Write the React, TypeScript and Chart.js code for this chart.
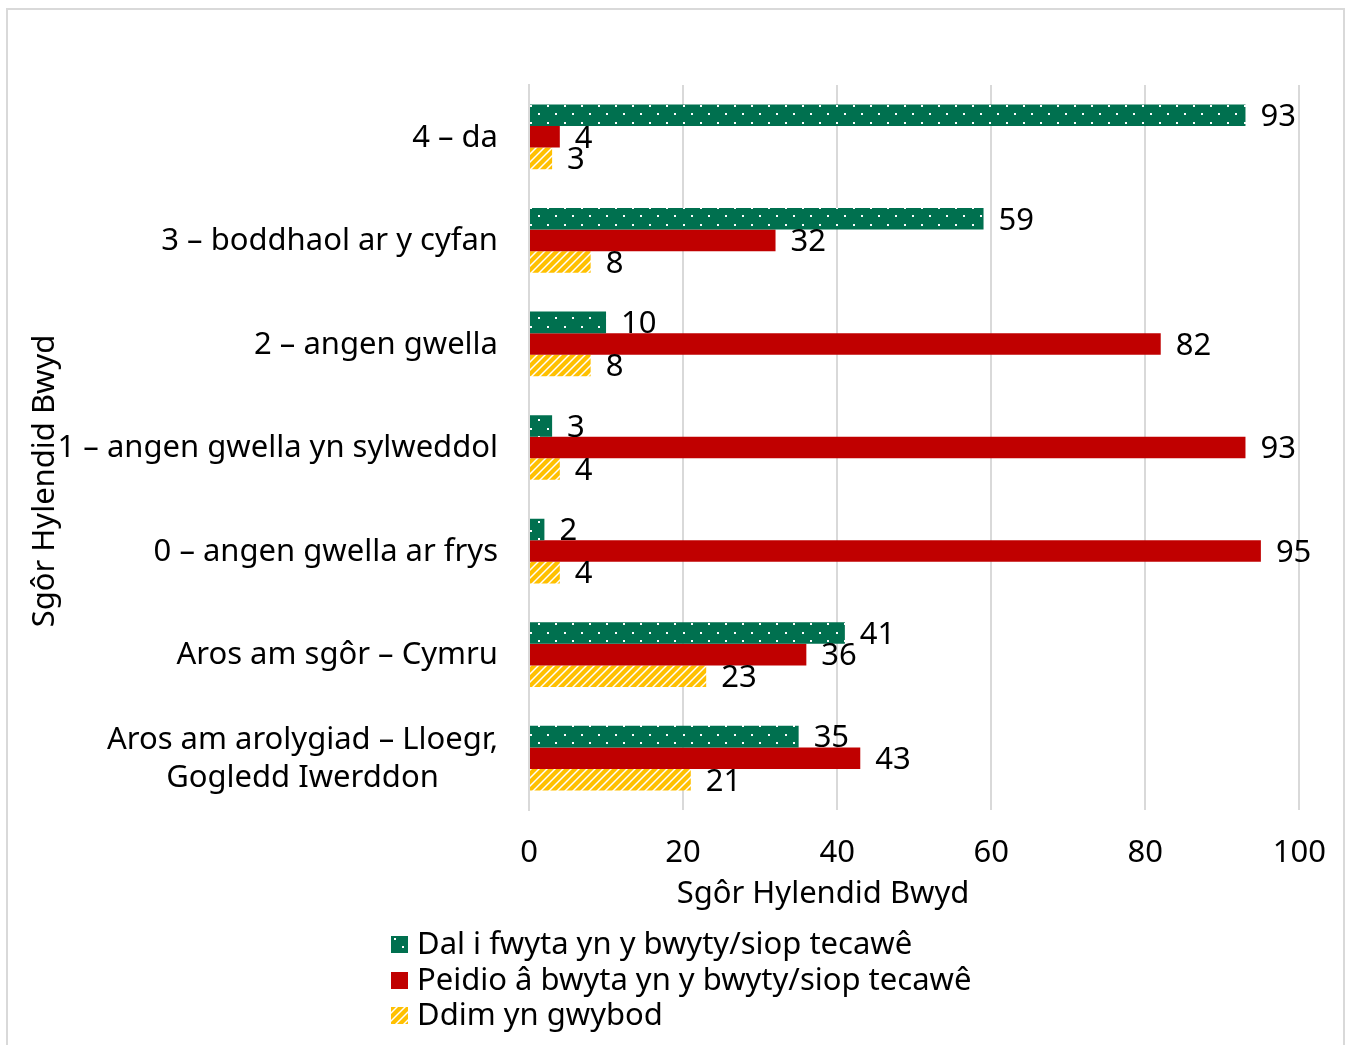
import React, { useEffect, useRef } from "react";
import { Chart, registerables } from "chart.js";

Chart.register(...registerables);

const categories: string[][] = [
  ["4 – da"],
  ["3 – boddhaol ar y cyfan"],
  ["2 – angen gwella"],
  ["1 – angen gwella yn sylweddol"],
  ["0 – angen gwella ar frys"],
  ["Aros am sgôr – Cymru"],
  ["Aros am arolygiad – Lloegr,", "Gogledd Iwerddon"],
];

const seriesNames = [
  "Dal i fwyta yn y bwyty/siop tecawê",
  "Peidio â bwyta yn y bwyty/siop tecawê",
  "Ddim yn gwybod",
];

const stillEat = [93, 59, 10, 3, 2, 41, 35];
const notEat = [4, 32, 82, 93, 95, 36, 43];
const dontKnow = [3, 8, 8, 4, 4, 23, 21];

const xTicks = [0, 20, 40, 60, 80, 100];
const axisTitle = "Sgôr Hylendid Bwyd";

const GREEN = "#00704f";
const RED = "#c00000";
const YELLOW = "#ffc000";
const FONT = "'Noto Sans', sans-serif";
const FS = 31;

function makeDotPattern(): CanvasPattern | string {
  const c = document.createElement("canvas");
  c.width = 17;
  c.height = 17;
  const g = c.getContext("2d");
  if (!g) return GREEN;
  g.fillStyle = GREEN;
  g.fillRect(0, 0, 17, 17);
  g.fillStyle = "#ffffff";
  g.fillRect(3, 3, 2, 2);
  g.fillRect(11, 11, 2, 2);
  return g.createPattern(c, "repeat") || GREEN;
}

function makeHatchPattern(): CanvasPattern | string {
  const c = document.createElement("canvas");
  const s = 8;
  c.width = s;
  c.height = s;
  const g = c.getContext("2d");
  if (!g) return YELLOW;
  g.fillStyle = "#ffffff";
  g.fillRect(0, 0, s, s);
  g.strokeStyle = YELLOW;
  g.lineWidth = 4.2;
  g.beginPath();
  g.moveTo(-s / 2, s / 2);
  g.lineTo(s / 2, -s / 2);
  g.moveTo(0, s);
  g.lineTo(s, 0);
  g.moveTo(s / 2, s + s / 2);
  g.lineTo(s + s / 2, s / 2);
  g.stroke();
  return g.createPattern(c, "repeat") || YELLOW;
}

export default function App() {
  const ref = useRef<HTMLCanvasElement | null>(null);

  useEffect(() => {
    if (!ref.current) return;
    const dot = makeDotPattern();
    const hatch = makeHatchPattern();
    const fills = [dot, RED, hatch];

    const customDraw = {
      id: "customDraw",
      afterDatasetsDraw(chart: any) {
        const ctx = chart.ctx;
        ctx.save();
        ctx.fillStyle = "#000000";
        ctx.font = `${FS}px ${FONT}`;
        ctx.textBaseline = "middle";
        ctx.textAlign = "left";
        chart.data.datasets.forEach((ds: any, di: number) => {
          const meta = chart.getDatasetMeta(di);
          meta.data.forEach((el: any, i: number) => {
            ctx.fillText(String(ds.data[i]), el.x + 15, el.y + 2);
          });
        });
        ctx.restore();
      },
      afterDraw(chart: any) {
        const ctx = chart.ctx;
        const area = chart.chartArea;
        const yScale = chart.scales.y;
        ctx.save();
        ctx.fillStyle = "#000000";
        ctx.font = `${FS}px ${FONT}`;
        ctx.textBaseline = "middle";
        // y category labels
        const lineH = 38;
        const rightX = area.left - 31;
        categories.forEach((lines, i) => {
          const cy = yScale.getPixelForValue(i) + 1;
          const widths = lines.map((l) => ctx.measureText(l).width);
          const blockW = Math.max(...widths);
          const blockCenter = rightX - blockW / 2;
          ctx.textAlign = "center";
          lines.forEach((l, li) => {
            const y = cy + (li - (lines.length - 1) / 2) * lineH;
            ctx.fillText(l, blockCenter, y);
          });
        });
        // axis titles
        ctx.textAlign = "center";
        ctx.fillText(axisTitle, 823, 894);
        ctx.save();
        ctx.translate(45, 481);
        ctx.rotate(-Math.PI / 2);
        ctx.fillText(axisTitle, 0, 0);
        ctx.restore();
        // legend
        const ly = [945, 981, 1016];
        seriesNames.forEach((n, i) => {
          ctx.fillStyle = fills[i] as any;
          ctx.fillRect(391, ly[i] - 9, 17, 17);
          ctx.fillStyle = "#000000";
          ctx.textAlign = "left";
          ctx.fillText(n, 417, ly[i]);
        });
        ctx.restore();
      },
    };

    const chart = new Chart(ref.current, {
      type: "bar",
      data: {
        labels: categories.map((c) => c.join(" ")),
        datasets: [
          { label: seriesNames[0], data: stillEat, backgroundColor: dot as any },
          { label: seriesNames[1], data: notEat, backgroundColor: RED },
          { label: seriesNames[2], data: dontKnow, backgroundColor: hatch as any },
        ],
      },
      options: {
        indexAxis: "y",
        animation: false,
        responsive: false,
        maintainAspectRatio: false,
        layout: { padding: { top: 85, right: 51, left: 0, bottom: 0 } },
        datasets: {
          bar: { barPercentage: 1, categoryPercentage: 0.625, borderWidth: 0 },
        },
        plugins: {
          legend: { display: false },
          tooltip: { enabled: false },
        },
        scales: {
          x: {
            min: 0,
            max: 100,
            afterBuildTicks(scale: any) {
              scale.ticks = xTicks.map((v) => ({ value: v }));
            },
            afterFit(scale: any) {
              scale.height = 1045 - 810;
            },
            grid: { color: "#d9d9d9", lineWidth: 2, drawTicks: false },
            border: { display: false },
            ticks: {
              color: "#000000",
              font: { family: FONT, size: FS },
              padding: 25,
              maxRotation: 0,
            },
          },
          y: {
            afterFit(scale: any) {
              scale.width = 529;
            },
            grid: { display: false, drawTicks: false },
            border: { display: true, color: "#d9d9d9", width: 2 },
            ticks: { display: false },
          },
        },
      },
      plugins: [customDraw],
    });
    return () => chart.destroy();
  }, []);

  return (
    <div style={{ position: "absolute", left: 0, top: 0, width: 1351, height: 1045, overflow: "hidden", background: "#fff" }}>
      <div
        style={{
          position: "absolute",
          left: 6,
          top: 8,
          width: 1339,
          height: 1060,
          border: "2px solid #d9d9d9",
          boxSizing: "border-box",
        }}
      />
      <canvas ref={ref} width={1351} height={1045} style={{ position: "absolute", left: 0, top: 0 }} />
    </div>
  );
}
